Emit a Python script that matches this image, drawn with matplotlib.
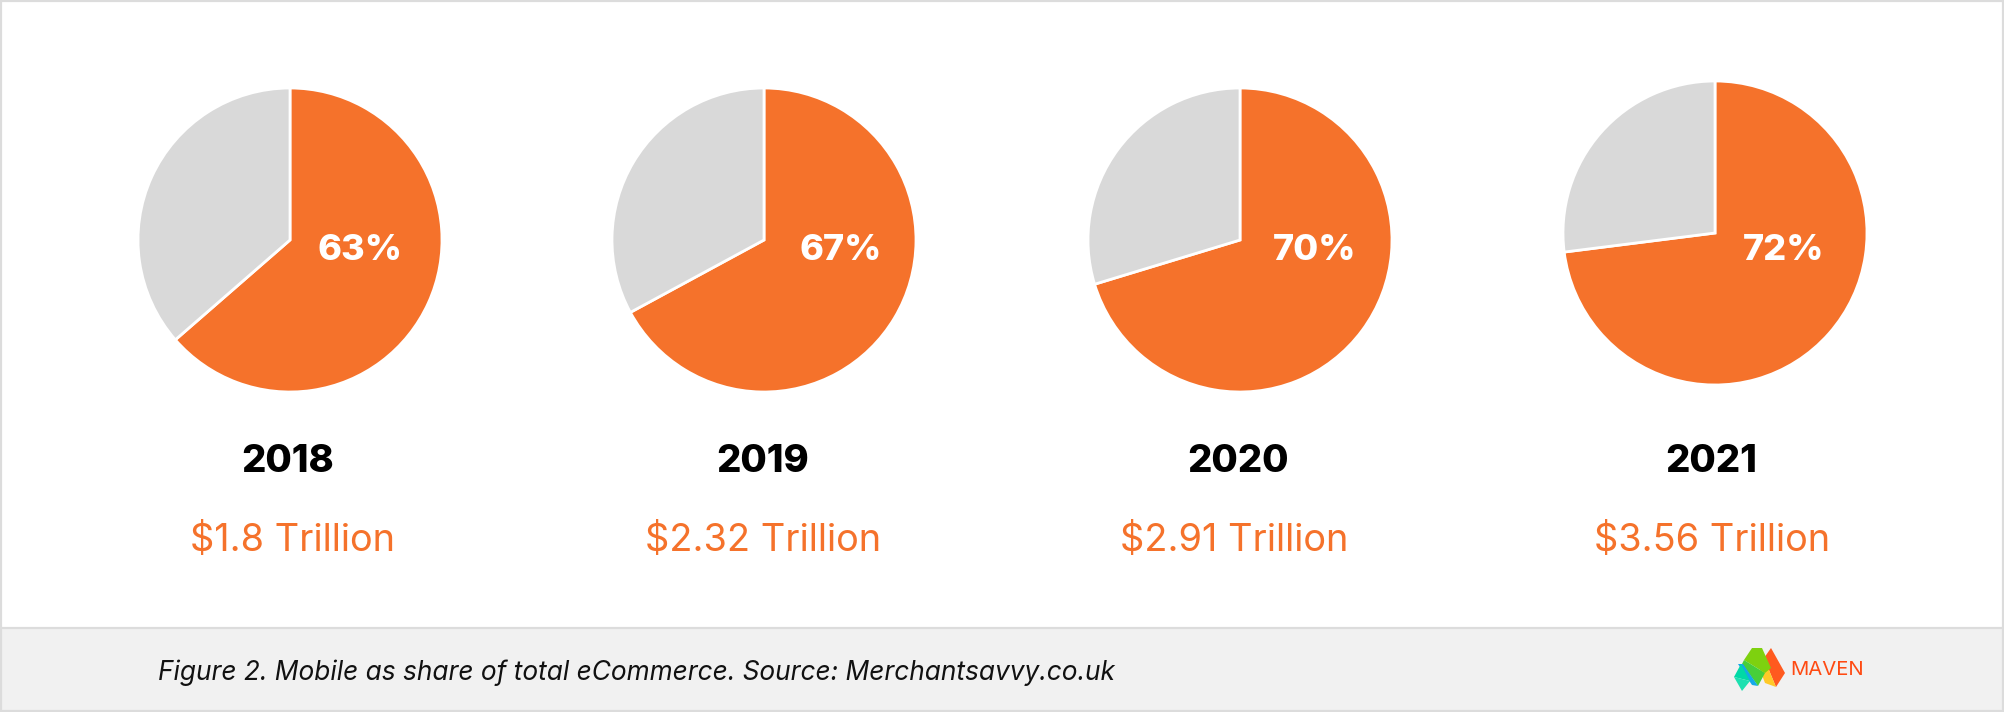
#!/usr/bin/env python3
import matplotlib
matplotlib.use('Agg')
import matplotlib.pyplot as plt
from matplotlib.patches import Polygon, Rectangle

W, H = 2004, 712
ORANGE = '#F5722B'
GREY = '#D9D9D9'

years = ['2018', '2019', '2020', '2021']
mobile_labels = ['63%', '67%', '70%', '72%']
# wedge sizes as drawn in the picture, slightly off the printed labels
mobile_share = [63.6, 67.1, 70.3, 73.0]
totals = ['$1.8 Trillion', '$2.32 Trillion', '$2.91 Trillion', '$3.56 Trillion']
caption = 'Figure 2. Mobile as share of total eCommerce. Source: Merchantsavvy.co.uk'

# pixel layout per pie
pie_x = [290, 764, 1240, 1715]
pie_y = [240, 240, 240, 233]
pct_x = [360, 841, 1315, 1784]
pct_y = [251, 251, 251, 250]
year_x = [288, 763, 1238, 1711]
total_x = [293, 763, 1234, 1712]
R = 152

plt.rcParams['font.family'] = ['Inter', 'DejaVu Sans']
fig = plt.figure(figsize=(W / 100, H / 100), dpi=100, facecolor='white')

# overlay in image pixels for the footer and the text
bg = fig.add_axes([0, 0, 1, 1])
bg.set_xlim(0, W)
bg.set_ylim(H, 0)
bg.axis('off')
bg.add_patch(Rectangle((0, 628), W, 82, facecolor='#F1F1F1', edgecolor='none'))
bg.plot([0, W], [628, 628], color='#DCDCDC', lw=1.6)
bg.add_patch(Rectangle((1, 1), W - 2, H - 2, facecolor='none', edgecolor='#DCDCDC', lw=1.6))

for i, share in enumerate(mobile_share):
    ax = fig.add_axes([(pie_x[i] - R) / W, 1 - (pie_y[i] + R) / H, 2 * R / W, 2 * R / H])
    ax.pie([share, 100 - share], colors=[ORANGE, GREY], startangle=90, counterclock=False,
           wedgeprops={'edgecolor': 'white', 'linewidth': 2.0})
    ax.set_xlim(-1, 1)
    ax.set_ylim(-1, 1)

top = fig.add_axes([0, 0, 1, 1])
top.set_xlim(0, W)
top.set_ylim(H, 0)
top.axis('off')
for i in range(4):
    top.text(pct_x[i], pct_y[i], mobile_labels[i], color='white', fontsize=26,
             fontweight='heavy', ha='center', va='center')
    top.text(year_x[i], 462, years[i], color='black', fontsize=27.5,
             fontweight='heavy', ha='center', va='center')
    top.text(total_x[i], 541, totals[i], color=ORANGE, fontsize=27.3,
             ha='center', va='center')
top.text(158, 673, caption, color='#111111', fontsize=18.9, style='italic', ha='left', va='center')

# logo
logo = [
    ('#FF5A1F', [(1771, 648), (1785, 673), (1776, 687), (1764, 658)]),
    ('#FFC928', [(1752, 648), (1764, 658), (1776, 687), (1765, 683)]),
    ('#7ED10F', [(1752, 648), (1744, 660), (1765, 673), (1771, 668), (1762, 648)]),
    ('#47CF3A', [(1744, 660), (1765, 673), (1758, 686), (1742, 664)]),
    ('#14A9E8', [(1743, 664), (1758, 686), (1752, 685), (1738, 664)]),
    ('#00D9A6', [(1741, 664), (1750, 681), (1734, 677)]),
    ('#1DE0B0', [(1734, 677), (1750, 681), (1742, 691)]),
]
for col, pts in logo:
    top.add_patch(Polygon(pts, closed=True, facecolor=col, edgecolor='none'))
top.text(1790, 670, 'MAVEN', color='#FF4A12', fontsize=14.6, ha='left', va='center')

fig.savefig('out.png', dpi=100)
